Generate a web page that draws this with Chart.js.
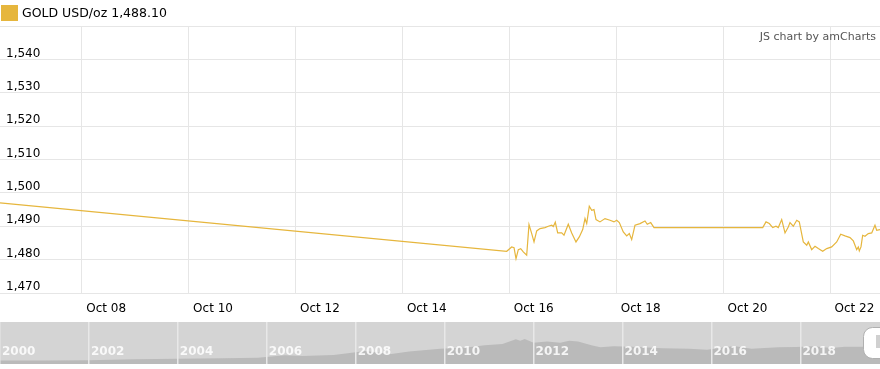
<!DOCTYPE html>
<html>
<head>
<meta charset="utf-8">
<script src="https://cdn.jsdelivr.net/npm/chart.js@4"></script>
<style>
    body { margin: 0; background: #fff; }
    #wrap { position: relative; width: 880px; height: 369px; }
    #main { position: absolute; left: 0; top: 0; width: 880px; height: 320px; }
    #nav { position: absolute; left: 0; top: 322px; width: 880px; height: 42px; background: #d4d4d4; }
</style>
</head>
<body>
<div id="wrap">
    <div id="main"><canvas id="goldChart"></canvas></div>
    <div id="nav"><canvas id="navChart"></canvas></div>
</div>
<script>
// Gold spot price, October 2019 (x = day of month, fractional)
const days = [
    6.471, 15.951, 16.044, 16.088, 16.125, 16.168, 16.213, 16.261, 16.325, 16.368,
    16.419, 16.462, 16.512, 16.574, 16.667, 16.729, 16.793, 16.823, 16.860, 16.905,
    16.980, 17.023, 17.103, 17.167, 17.247, 17.309, 17.373, 17.416, 17.448, 17.496,
    17.541, 17.584, 17.622, 17.696, 17.790, 17.884, 17.958, 18.009, 18.058, 18.132,
    18.196, 18.245, 18.289, 18.351, 18.445, 18.538, 18.581, 18.645, 18.707, 20.741,
    20.802, 20.864, 20.928, 20.989, 21.032, 21.096, 21.158, 21.219, 21.251, 21.313,
    21.377, 21.425, 21.500, 21.564, 21.594, 21.657, 21.719, 21.781, 21.863, 21.938,
    22.031, 22.125, 22.200, 22.280, 22.374, 22.436, 22.499, 22.529, 22.548, 22.579,
    22.611, 22.654, 22.716, 22.780, 22.841, 22.873, 22.935
];
const prices = [
    1497.0, 1482.5, 1483.8, 1483.6, 1480.3, 1483.0, 1483.3, 1482.3, 1481.3, 1490.5,
    1487.8, 1485.3, 1488.6, 1489.3, 1489.6, 1490.0, 1490.3, 1489.9, 1491.2, 1488.0,
    1488.0, 1487.3, 1490.6, 1488.0, 1485.3, 1486.8, 1489.0, 1492.3, 1490.8, 1496.0,
    1494.8, 1495.0, 1492.0, 1491.3, 1492.3, 1491.8, 1491.3, 1491.8, 1491.1, 1488.3,
    1487.1, 1487.8, 1486.0, 1490.3, 1490.8, 1491.6, 1490.6, 1491.1, 1489.6, 1489.6,
    1491.3, 1490.8, 1489.6, 1490.0, 1489.6, 1492.0, 1488.0, 1489.8, 1491.1, 1490.0,
    1491.8, 1491.3, 1485.3, 1484.3, 1485.3, 1483.0, 1484.0, 1483.3, 1482.5, 1483.3,
    1483.8, 1485.3, 1487.6, 1487.1, 1486.6, 1485.6, 1483.0, 1483.8, 1482.6, 1483.8,
    1487.3, 1487.0, 1487.8, 1488.0, 1490.3, 1488.8, 1489.0
];
const xTicks = [8, 10, 12, 14, 16, 18, 20, 22];
const yTicks = [1470, 1480, 1490, 1500, 1510, 1520, 1530, 1540];
const legendText = "GOLD USD/oz 1,488.10";

// Navigator history (x = year, y = USD/oz)
const navYears = [
    2000.0, 2001.0, 2002.0, 2002.5, 2003.0, 2004.0, 2005.0, 2005.8, 2006.4, 2006.8,
    2007.5, 2008.0, 2008.2, 2008.8, 2009.2, 2009.9, 2010.5, 2010.9, 2011.3, 2011.6,
    2011.7, 2011.8, 2012.0, 2012.3, 2012.6, 2012.8, 2013.0, 2013.3, 2013.5, 2013.8,
    2014.2, 2014.9, 2015.5, 2015.9, 2016.5, 2016.9, 2017.5, 2017.9, 2018.3, 2018.7,
    2019.0, 2019.4, 2019.6, 2019.8
];
const navPrices = [
    270, 265, 280, 320, 350, 400, 430, 470, 650, 600,
    670, 880, 980, 750, 930, 1150, 1230, 1400, 1500, 1850,
    1750, 1880, 1600, 1680, 1600, 1750, 1680, 1400, 1250, 1330,
    1300, 1180, 1150, 1070, 1350, 1150, 1250, 1280, 1340, 1200,
    1290, 1300, 1500, 1490
];
const navTicks = [2000, 2002, 2004, 2006, 2008, 2010, 2012, 2014, 2016, 2018];

const GOLD = "#e6b63d";
const GRID = "#e6e6e6";
const FONT = "DejaVu Sans";

// legend, credit and inside y labels
const mainDecor = {
    id: "mainDecor",
    afterDraw(chart) {
        const c = chart.ctx;
        const y = chart.scales.y;
        c.save();
        c.fillStyle = GOLD;
        c.fillRect(1, 5, 17, 16);
        c.fillStyle = "#000";
        c.font = "12.5px " + FONT;
        c.textBaseline = "middle";
        c.textAlign = "left";
        c.fillText(legendText, 22, 14);
        c.font = "12px " + FONT;
        yTicks.forEach(v => {
            c.fillText(v.toLocaleString("en-US"), 6, y.getPixelForValue(v) - 6);
        });
        c.fillStyle = "#555";
        c.font = "11px " + FONT;
        c.textAlign = "right";
        c.fillText("JS chart by amCharts", 876, 37);
        c.restore();
    }
};

new Chart(document.getElementById("goldChart"), {
    type: "line",
    data: {
        datasets: [{
            label: legendText,
            data: days.map((d, i) => ({ x: d, y: prices[i] })),
            borderColor: GOLD,
            borderWidth: 1.2,
            pointRadius: 0,
            tension: 0,
            fill: false
        }]
    },
    options: {
        responsive: true,
        maintainAspectRatio: false,
        animation: false,
        layout: { padding: { top: 26, left: 0, right: 0, bottom: 0 } },
        plugins: { legend: { display: false }, tooltip: { enabled: false } },
        scales: {
            x: {
                type: "linear",
                min: 6.471,
                max: 22.935,
                afterBuildTicks: s => { s.ticks = xTicks.map(v => ({ value: v })); },
                afterFit: s => { s.height = 27; s.paddingLeft = 0; s.paddingRight = 0; },
                grid: { color: GRID, drawTicks: false },
                border: { color: GRID },
                ticks: {
                    autoSkip: false,
                    maxRotation: 0,
                    align: "start",
                    labelOffset: 4.5,
                    padding: 9,
                    color: "#000",
                    font: { family: FONT, size: 12 },
                    callback: v => "Oct " + String(v).padStart(2, "0")
                }
            },
            y: {
                min: 1470,
                max: 1550,
                afterBuildTicks: s => { s.ticks = yTicks.concat([1550]).map(v => ({ value: v })); },
                grid: { color: GRID, drawTicks: false },
                border: { display: false },
                ticks: { display: false }
            }
        }
    },
    plugins: [mainDecor]
});

// navigator: year labels and scrollbar grip
const navDecor = {
    id: "navDecor",
    afterDraw(chart) {
        const c = chart.ctx;
        const x = chart.scales.x;
        c.save();
        c.fillStyle = "rgba(255,255,255,0.85)";
        c.font = "bold 12px " + FONT;
        c.textBaseline = "middle";
        c.textAlign = "left";
        navTicks.forEach(v => c.fillText(String(v), x.getPixelForValue(v) + 2, 30));
        c.beginPath();
        c.roundRect(863.5, 5.5, 26, 31, 9);
        c.fillStyle = "#fff";
        c.fill();
        c.strokeStyle = "#b0b0b0";
        c.lineWidth = 1;
        c.stroke();
        c.fillStyle = "#d0d0d0";
        c.fillRect(876, 13, 5, 13);
        c.restore();
    }
};

new Chart(document.getElementById("navChart"), {
    type: "line",
    data: {
        datasets: [{
            data: navYears.map((d, i) => ({ x: d, y: navPrices[i] })),
            borderWidth: 0,
            pointRadius: 0,
            backgroundColor: "#bababa",
            fill: "origin"
        }]
    },
    options: {
        responsive: true,
        maintainAspectRatio: false,
        animation: false,
        layout: { padding: 0 },
        plugins: { legend: { display: false }, tooltip: { enabled: false } },
        scales: {
            x: {
                type: "linear",
                min: 2000,
                max: 2019.79,
                afterBuildTicks: s => { s.ticks = navTicks.map(v => ({ value: v })); },
                afterFit: s => { s.height = 0; s.paddingLeft = 0; s.paddingRight = 0; },
                grid: { color: "#e8e8e8", lineWidth: 1.5, drawTicks: false, z: 1 },
                border: { display: false },
                ticks: { display: false }
            },
            y: { display: false, min: 0, max: 3150 }
        }
    },
    plugins: [navDecor]
});
</script>
</body>
</html>
